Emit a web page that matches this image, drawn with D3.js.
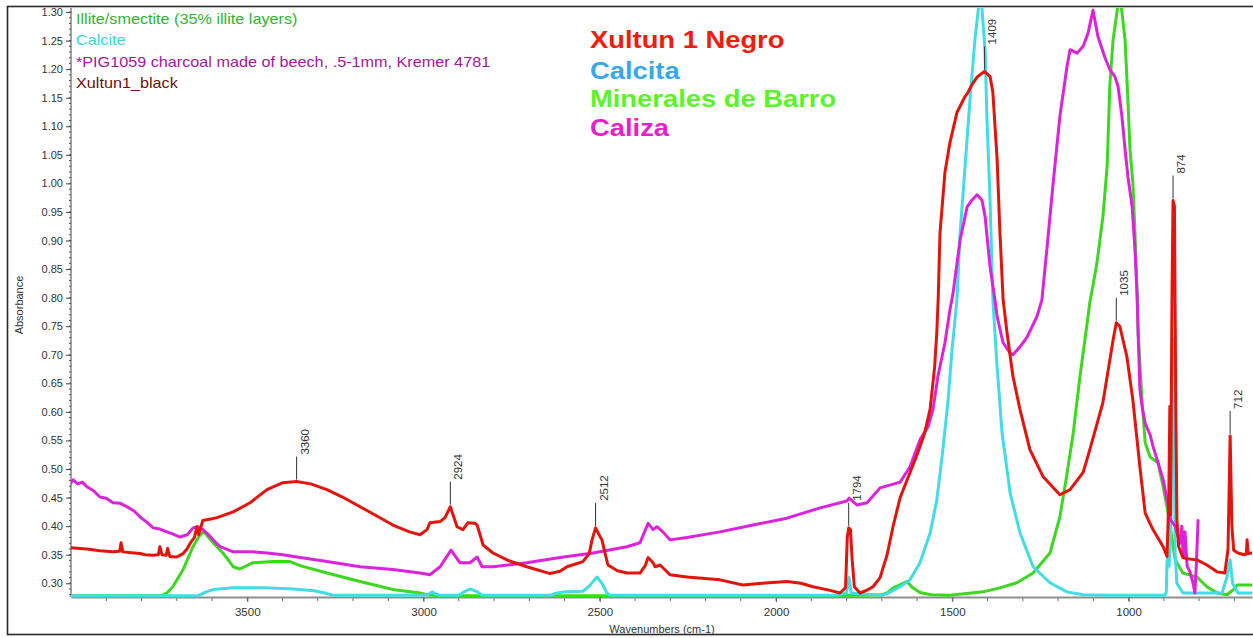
<!DOCTYPE html>
<html>
<head>
<meta charset="utf-8">
<script src="https://cdn.jsdelivr.net/npm/d3@7"></script>
<style>
  html, body { margin: 0; padding: 0; background: #fff; }
  svg { display: block; }
  text { font-family: "Liberation Sans", Arial, sans-serif; }
</style>
</head>
<body>
<svg id="chart" width="1253" height="638"></svg>
<script>
// ---- Spectra: [wavenumber (cm-1), absorbance] ----
const xultunBlack = [
  [4000,0.362],[3975,0.361],[3955,0.360],[3918,0.357],[3881,0.355],[3862,0.356],[3858,0.371],[3853,0.355],
  [3820,0.353],[3804,0.352],[3790,0.350],[3767,0.349],[3752,0.350],[3748,0.364],[3742,0.350],[3730,0.349],
  [3726,0.361],[3720,0.347],[3700,0.346],[3682,0.352],[3671,0.360],[3660,0.372],[3650,0.380],[3643,0.399],
  [3638,0.385],[3626,0.410],[3600,0.413],[3586,0.415],[3540,0.425],[3492,0.441],[3444,0.464],[3399,0.476],
  [3360,0.478],[3320,0.474],[3274,0.464],[3230,0.451],[3180,0.434],[3130,0.417],[3087,0.402],[3040,0.390],
  [3010,0.385],[2990,0.394],[2982,0.406],[2953,0.408],[2939,0.415],[2924,0.434],[2905,0.399],[2888,0.394],
  [2874,0.406],[2855,0.405],[2848,0.402],[2831,0.367],[2803,0.353],[2760,0.340],[2707,0.329],[2641,0.317],
  [2613,0.321],[2593,0.329],[2548,0.338],[2530,0.352],[2522,0.376],[2512,0.397],[2502,0.385],[2494,0.376],
  [2477,0.332],[2450,0.322],[2423,0.318],[2386,0.318],[2372,0.330],[2363,0.345],[2349,0.336],[2343,0.329],
  [2329,0.332],[2301,0.315],[2253,0.311],[2159,0.306],[2094,0.297],[2040,0.300],[1969,0.303],[1930,0.300],
  [1895,0.294],[1850,0.288],[1819,0.283],[1803,0.292],[1798,0.380],[1794,0.397],[1789,0.394],[1784,0.340],
  [1778,0.294],[1762,0.283],[1742,0.288],[1725,0.294],[1705,0.310],[1685,0.350],[1668,0.400],[1648,0.450],
  [1629,0.480],[1600,0.525],[1580,0.560],[1563,0.605],[1550,0.680],[1544,0.740],[1540,0.800],[1535,0.914],
  [1521,1.019],[1507,1.071],[1487,1.124],[1464,1.152],[1456,1.159],[1444,1.173],[1430,1.186],[1409,1.196],
  [1393,1.187],[1385,1.159],[1373,1.042],[1365,0.914],[1356,0.797],[1345,0.739],[1328,0.662],[1308,0.604],
  [1280,0.534],[1243,0.487],[1195,0.455],[1166,0.464],[1129,0.494],[1110,0.534],[1073,0.616],[1044,0.726],
  [1035,0.756],[1025,0.750],[1005,0.697],[988,0.621],[968,0.504],[953,0.423],[931,0.394],[902,0.364],
  [891,0.347],[886,0.450],[883,0.610],[881,0.420],[877,0.800],[874,0.970],[870,0.960],[866,0.600],
  [863,0.411],[858,0.364],[846,0.345],[834,0.343],[806,0.341],[778,0.332],[749,0.320],[727,0.318],
  [718,0.360],[712,0.558],[707,0.400],[702,0.358],[690,0.353],[672,0.350],[666,0.351],[664,0.376],
  [661,0.352],[650,0.353]
];

const calcite = [
  [4000,0.278],[3640,0.278],[3620,0.284],[3597,0.289],[3540,0.292],[3450,0.292],[3370,0.290],[3310,0.287],
  [3274,0.282],[3257,0.279],[3000,0.279],[2985,0.281],[2976,0.285],[2965,0.281],[2953,0.279],[2900,0.279],
  [2885,0.285],[2868,0.290],[2850,0.286],[2834,0.279],[2640,0.279],[2621,0.283],[2600,0.285],[2548,0.286],
  [2530,0.295],[2508,0.311],[2494,0.300],[2480,0.283],[2471,0.279],[1830,0.279],[1800,0.283],[1793,0.310],
  [1787,0.283],[1700,0.279],[1685,0.282],[1648,0.294],[1620,0.306],[1592,0.336],[1563,0.388],[1544,0.446],
  [1527,0.533],[1512,0.621],[1501,0.708],[1487,0.796],[1478,0.913],[1464,1.029],[1450,1.146],[1436,1.251],
  [1420,1.340],[1407,1.232],[1402,1.116],[1393,0.971],[1385,0.796],[1373,0.679],[1359,0.563],[1336,0.458],
  [1308,0.388],[1271,0.329],[1223,0.301],[1175,0.285],[1129,0.280],[1050,0.279],[897,0.279],[893,0.285],
  [891,0.341],[888,0.347],[885,0.330],[880,0.400],[876,0.730],[872,0.700],[868,0.350],[863,0.300],
  [846,0.283],[735,0.283],[721,0.311],[712,0.341],[705,0.300],[690,0.283],[650,0.283]
];

const clayMinerals = [
  [4000,0.278],[3745,0.278],[3728,0.283],[3711,0.294],[3682,0.324],[3654,0.364],[3634,0.385],[3623,0.390],
  [3597,0.371],[3569,0.353],[3540,0.329],[3521,0.325],[3484,0.336],[3427,0.338],[3379,0.338],[3350,0.331],
  [3274,0.318],[3180,0.303],[3087,0.289],[3010,0.283],[2990,0.280],[2960,0.278],[1850,0.278],[1700,0.280],
  [1685,0.283],[1668,0.292],[1629,0.303],[1612,0.292],[1592,0.284],[1560,0.280],[1507,0.279],[1413,0.285],
  [1365,0.292],[1317,0.301],[1271,0.318],[1223,0.353],[1195,0.416],[1176,0.487],[1157,0.563],[1138,0.662],
  [1119,0.749],[1110,0.792],[1100,0.825],[1090,0.860],[1073,0.941],[1061,1.029],[1053,1.175],[1044,1.251],
  [1033,1.300],[1026,1.330],[1019,1.300],[1010,1.251],[1002,1.146],[996,1.059],[988,1.001],[982,0.914],
  [976,0.808],[973,0.738],[962,0.621],[953,0.546],[939,0.521],[917,0.511],[902,0.469],[888,0.423],
  [868,0.341],[846,0.318],[806,0.311],[778,0.294],[749,0.283],[721,0.280],[700,0.290],[692,0.297],
  [650,0.297]
];

const limestone = [
  [4000,0.476],[3994,0.481],[3981,0.474],[3968,0.477],[3955,0.469],[3936,0.462],[3918,0.451],[3900,0.449],
  [3881,0.441],[3860,0.440],[3841,0.434],[3820,0.426],[3804,0.416],[3785,0.407],[3767,0.397],[3748,0.395],
  [3728,0.390],[3710,0.386],[3691,0.381],[3670,0.385],[3654,0.397],[3640,0.399],[3626,0.394],[3610,0.385],
  [3597,0.376],[3577,0.364],[3540,0.355],[3484,0.355],[3444,0.353],[3399,0.350],[3350,0.345],[3274,0.338],
  [3180,0.329],[3087,0.324],[3010,0.318],[2982,0.315],[2953,0.329],[2922,0.358],[2897,0.336],[2868,0.336],
  [2848,0.346],[2834,0.329],[2803,0.329],[2707,0.336],[2613,0.345],[2519,0.353],[2423,0.364],[2386,0.371],
  [2363,0.405],[2349,0.394],[2338,0.399],[2321,0.390],[2301,0.376],[2253,0.380],[2159,0.390],[2065,0.402],
  [1969,0.414],[1875,0.432],[1799,0.444],[1793,0.449],[1770,0.437],[1742,0.441],[1705,0.467],[1648,0.477],
  [1620,0.504],[1592,0.551],[1569,0.574],[1555,0.604],[1541,0.662],[1521,0.721],[1507,0.778],[1498,0.808],
  [1478,0.901],[1458,0.959],[1444,0.971],[1430,0.980],[1416,0.971],[1407,0.941],[1393,0.854],[1379,0.796],
  [1373,0.767],[1356,0.721],[1336,0.703],[1328,0.700],[1308,0.714],[1288,0.731],[1260,0.767],[1246,0.796],
  [1232,0.884],[1214,1.001],[1195,1.117],[1175,1.204],[1166,1.234],[1146,1.228],[1129,1.240],[1115,1.263],
  [1101,1.303],[1087,1.257],[1067,1.220],[1053,1.199],[1039,1.187],[1030,1.170],[1019,1.117],[1010,1.059],
  [1002,1.012],[990,0.959],[982,0.884],[976,0.808],[973,0.738],[968,0.640],[962,0.610],[953,0.580],
  [939,0.560],[931,0.540],[919,0.516],[911,0.500],[902,0.481],[888,0.437],[880,0.410],[868,0.400],
  [854,0.370],[849,0.400],[845,0.345],[840,0.390],[834,0.330],[826,0.320],[817,0.300],[812,0.283],
  [808,0.330],[803,0.410]
];

// Peak positions marked on the sample spectrum
const peakLabels = [3360, 2924, 2512, 1794, 1409, 1035, 874, 712];

// Axis ticks
const wavenumberTicks = [3500, 3000, 2500, 2000, 1500, 1000];
const absorbanceTicks = [0.30,0.35,0.40,0.45,0.50,0.55,0.60,0.65,0.70,0.75,0.80,0.85,0.90,0.95,1.00,1.05,1.10,1.15,1.20,1.25,1.30];

// Spectrum legend (software) and the Spanish annotations
const spectrumNames = ["Illite/smectite (35% illite layers)", "Calcite", "*PIG1059 charcoal made of beech, .5-1mm, Kremer 4781", "Xultun1_black"];
const spectrumNameColors = ["#2fb52f", "#3ed3d6", "#a3179a", "#6e0f0f"];
const annotationNames = ["Xultun 1 Negro", "Calcita", "Minerales de Barro", "Caliza"];
const annotationColors = ["#f41a0c", "#37a8ee", "#5af526", "#ec1ec8"];

// ---- Layout ----
const svg = d3.select("#chart");
const plot = { left: 71, right: 1252, top: 8, bottom: 597 };

const x = d3.scaleLinear().domain([4000, 650]).range([plot.left, plot.right]);
const y = d3.scaleLinear().domain([0.276, 1.307]).range([plot.bottom, plot.top]);

// Outer frame
svg.append("rect")
  .attr("x", 7.5).attr("y", 6.5)
  .attr("width", 1260).attr("height", 628)
  .attr("fill", "#fff").attr("stroke", "#2a2a2a").attr("stroke-width", 1.6);

svg.append("clipPath").attr("id", "plot-clip")
  .append("rect")
  .attr("x", plot.left).attr("y", plot.top)
  .attr("width", plot.right - plot.left).attr("height", plot.bottom - plot.top + 2);

// ---- Axes ----
// y minor ticks every 0.01
const yMinor = d3.range(28, 131).map(v => v / 100);
svg.append("g").selectAll("line").data(yMinor).join("line")
  .attr("x1", plot.left - 2).attr("x2", plot.left)
  .attr("y1", d => y(d)).attr("y2", d => y(d))
  .attr("stroke", "#555").attr("stroke-width", 1);

const yAxis = svg.append("g")
  .attr("transform", `translate(${plot.left},0)`)
  .call(d3.axisLeft(y).tickValues(absorbanceTicks).tickFormat(d3.format(".2f")).tickSize(5).tickSizeOuter(0).tickPadding(3));
yAxis.select(".domain").attr("stroke", "#444").attr("d", `M0,${plot.top}V${plot.bottom}`);
yAxis.selectAll(".tick line").attr("stroke", "#444");
yAxis.selectAll(".tick text").attr("fill", "#333").style("font-size", "11px");

// x minor ticks every 100 cm-1
const xMinor = d3.range(700, 4000, 100);
svg.append("g").selectAll("line").data(xMinor).join("line")
  .attr("x1", d => x(d)).attr("x2", d => x(d))
  .attr("y1", plot.bottom).attr("y2", plot.bottom + 4)
  .attr("stroke", "#666").attr("stroke-width", 1);

const xAxis = svg.append("g")
  .attr("transform", `translate(0,${plot.bottom})`)
  .call(d3.axisBottom(x).tickValues(wavenumberTicks).tickFormat(d3.format("d")).tickSize(5).tickSizeOuter(0).tickPadding(6));
xAxis.select(".domain").attr("stroke", "#8e8e8e").attr("stroke-width", 2);
xAxis.selectAll(".tick line").attr("stroke", "#666");
xAxis.selectAll(".tick text").attr("fill", "#333").style("font-size", "11.5px");

svg.append("text")
  .attr("x", 662).attr("y", 633)
  .attr("text-anchor", "middle")
  .attr("fill", "#333").style("font-size", "11px")
  .text("Wavenumbers (cm-1)");

svg.append("text")
  .attr("transform", "translate(23,305) rotate(-90)")
  .attr("text-anchor", "middle")
  .attr("fill", "#333").style("font-size", "11px")
  .text("Absorbance");

// ---- Spectra ----
const line = d3.line().x(d => x(d[0])).y(d => y(d[1]));
const curves = svg.append("g").attr("clip-path", "url(#plot-clip)");
const spectra = [
  { data: clayMinerals, color: "#3cd81f" },
  { data: calcite, color: "#42dce6" },
  { data: limestone, color: "#dc22dc" },
  { data: xultunBlack, color: "#e3140c" }
];
curves.selectAll("path").data(spectra).join("path")
  .attr("d", d => line(d.data))
  .attr("fill", "none")
  .attr("stroke", d => d.color)
  .attr("stroke-width", 3)
  .attr("stroke-linejoin", "round")
  .attr("stroke-linecap", "round");

// ---- Peak labels on the sample spectrum ----
const peakLookup = new Map(xultunBlack.map(d => [d[0], d[1]]));
const peaks = svg.append("g");
peakLabels.forEach(wn => {
  const px = x(wn), py = y(peakLookup.get(wn));
  peaks.append("line")
    .attr("x1", px).attr("x2", px)
    .attr("y1", py - 2).attr("y2", py - 25)
    .attr("stroke", "#333").attr("stroke-width", 1);
  peaks.append("text")
    .attr("transform", `translate(${px + 12},${py - 27}) rotate(-90)`)
    .attr("fill", "#333").style("font-size", "11.5px")
    .text(wn);
});

// ---- Spectrum names (top left) ----
const names = svg.append("g");
spectrumNames.forEach((name, i) => {
  names.append("text")
    .attr("transform", `translate(76,${24 + i * 21.4}) scale(1.08,1)`)
    .attr("fill", spectrumNameColors[i]).style("font-size", "15px")
    .text(name);
});

// ---- Spanish annotations ----
const annotationBaselines = [48, 79, 107, 136];
const notes = svg.append("g");
annotationNames.forEach((name, i) => {
  notes.append("text")
    .attr("transform", `translate(590,${annotationBaselines[i]}) scale(1.14,1)`)
    .attr("fill", annotationColors[i])
    .style("font-size", "24px").style("font-weight", "bold")
    .text(name);
});
</script>
</body>
</html>
